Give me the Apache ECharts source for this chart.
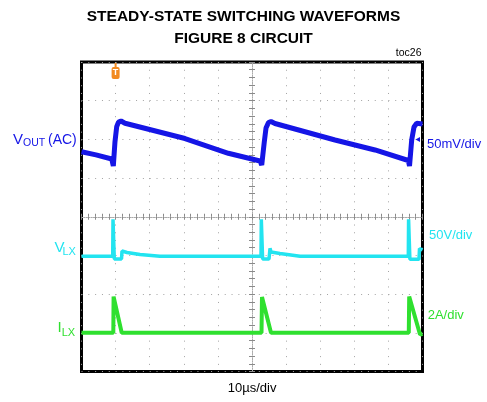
<!DOCTYPE html>
<html><head><meta charset="utf-8">
<script src="https://cdn.jsdelivr.net/npm/echarts@6/dist/echarts.min.js"></script>
<style>html,body{margin:0;padding:0;background:#fff}#c{width:487px;height:402px}</style>
</head><body><div id="c"></div>
<script>
// ---- data read from the scope capture (time in µs, 10 µs/div) ----
const titleLines = ['STEADY-STATE SWITCHING WAVEFORMS', 'FIGURE 8 CIRCUIT'];
const timeRange = [0, 100];
const timeDiv = 10;
const triggerTime = 10;

// VOUT (AC), mV, 50 mV/div, ground marker at +2 div
const voutTime = [0, 4.25, 8.86, 9.33, 9.82, 10.32, 10.85, 11.58, 12.76, 30.35, 43.05, 52.35, 52.85, 53.61, 54.11, 54.84, 55.57, 56.74, 74.34, 86.07, 95.84, 96.19, 96.83, 97.51, 98.3, 100];
const voutMv   = [-16, -20, -25.4, -34.4, -3, 16.4, 22.4, 23.7, 20.8, 1.1, -18, -28, -33.1, -3, 14.7, 21.8, 23.1, 20.5, -0.8, -13.7, -27.3, -34.4, -0.8, 16, 20.8, 19.9];
const voutScale = 50, voutPos = 2;

// VLX, V, 50 V/div, ground at -1 div
const lxTime = [0, 9.15, 9.24, 9.53, 9.62, 11.73, 11.88, 13.34, 17.16, 23, 52.64, 52.73, 53.02, 53.11, 54.99, 55.28, 55.57, 58.2, 64.1, 95.84, 95.92, 96.22, 96.3, 98.97, 99.12, 100];
const lxVolt = [-1, -1, 46.7, 46.7, -4.6, -4.6, 5.7, 3.8, 1.2, -1, -1, 46.7, 46.7, -4.6, -4.6, 9.2, 4.4, 2.5, -1, -1, 46.7, 46.7, -5, -5, 8.9, 7];
const lxScale = 50, lxPos = -1;

// ILX, A, 2 A/div, zero at -3 div
const ilxTime = [0, 9.33, 9.41, 9.68, 11.79, 52.79, 52.93, 53.14, 55.57, 95.98, 96.1, 96.28, 99.27, 100];
const ilxAmp  = [0, 0, 1.87, 1.83, 0, 0, 1.85, 1.87, 0, 0, 1.88, 1.87, -0.09, -0.05];
const ilxScale = 2, ilxPos = -3;

const colBlue = '#1515e6', colCyan = '#22e4f0', colGreen = '#2fe02f';
const FONT = '"Liberation Sans", Arial, Helvetica, sans-serif';

function toDiv(ts, vs, scale, pos) { return ts.map((t, i) => [t, vs[i] / scale + pos]); }

const chart = echarts.init(document.getElementById('c'), null, {renderer: 'canvas'});
const gridBox = {left: 81.5, top: 62, width: 341, height: 309.5};

function centerAxis(dim, position) {
  const base = {
    type: 'value', position: position,
    offset: dim === 'x' ? -gridBox.height / 2 : -gridBox.width / 2,
    axisLine: {show: true, onZero: false, lineStyle: {color: '#aaaaaa', width: 1, type: [1, 1.4]}},
    axisTick: {show: true, length: 3, lineStyle: {color: '#8a8a8a', width: 1}},
    minorTick: {show: true, splitNumber: 5, length: 3, lineStyle: {color: '#8a8a8a', width: 1}},
    axisLabel: {show: false}, splitLine: {show: false}
  };
  if (dim === 'x') { base.min = timeRange[0]; base.max = timeRange[1]; base.interval = timeDiv; }
  else { base.min = -4; base.max = 4; base.interval = 1; }
  return base;
}

chart.setOption({
  animation: false,
  backgroundColor: '#ffffff',
  title: {
    text: titleLines.join('\n'), left: 'center', top: 1,
    textStyle: {fontFamily: FONT, fontSize: 15.5, fontWeight: 'bold', color: '#000', lineHeight: 22}
  },
  grid: Object.assign({show: true, borderColor: '#000', borderWidth: 3, backgroundColor: 'transparent'}, gridBox),
  xAxis: [
    {type: 'value', min: timeRange[0], max: timeRange[1], interval: timeDiv,
     axisLine: {show: false, onZero: false}, axisTick: {show: false}, axisLabel: {show: false},
     splitLine: {show: true, lineStyle: {color: '#a3a3a3', width: 1, type: [1, 6.74]}}},
    centerAxis('x', 'bottom'), centerAxis('x', 'top')
  ],
  yAxis: [
    {type: 'value', min: -4, max: 4, interval: 1,
     axisLine: {show: false, onZero: false}, axisTick: {show: false}, axisLabel: {show: false},
     splitLine: {show: true, lineStyle: {color: '#a3a3a3', width: 1, type: [1, 5.82]}}},
    centerAxis('y', 'left'), centerAxis('y', 'right')
  ],
  series: [
    {type: 'line', name: 'VOUT', data: toDiv(voutTime, voutMv, voutScale, voutPos), showSymbol: false,
     lineStyle: {color: colBlue, width: 5}, xAxisIndex: 0, yAxisIndex: 0, z: 3},
    {type: 'line', name: 'VLX', data: toDiv(lxTime, lxVolt, lxScale, lxPos), showSymbol: false,
     lineStyle: {color: colCyan, width: 3.5}, xAxisIndex: 0, yAxisIndex: 0, z: 3},
    {type: 'line', name: 'ILX', data: toDiv(ilxTime, ilxAmp, ilxScale, ilxPos), showSymbol: false,
     lineStyle: {color: colGreen, width: 4}, xAxisIndex: 0, yAxisIndex: 0, z: 3}
  ]
});

const trig = chart.convertToPixel({xAxisIndex: 0, yAxisIndex: 0}, [triggerTime, 4]);
const gnd = chart.convertToPixel({xAxisIndex: 0, yAxisIndex: 0}, [timeRange[1], voutPos]);

function txt(text, x, y, size, color, align, weight) {
  return {type: 'text', x: x, y: y, z: 10,
    style: {text: text, fill: color, font: (weight || 'normal') + ' ' + size + 'px ' + FONT,
            align: align || 'left', verticalAlign: 'middle'}};
}

chart.setOption({
  graphic: [
    // trigger marker
    {type: 'group', x: trig[0], y: trig[1], z: 10, children: [
      {type: 'rect', shape: {x: -1, y: 1, width: 2, height: 4}, style: {fill: '#f28a20'}},
      {type: 'rect', shape: {x: -4, y: 5, width: 8, height: 12, r: 2}, style: {fill: '#f28a20'}},
      {type: 'text', x: 0, y: 11, style: {text: 'T', fill: '#ffffff', font: 'bold 9px ' + FONT, align: 'center', verticalAlign: 'middle'}}
    ]},
    // VOUT ground marker
    {type: 'polygon', z: 10, shape: {points: [[gnd[0] - 7, gnd[1]], [gnd[0] - 2.5, gnd[1] - 2.5], [gnd[0] - 2.5, gnd[1] + 2.5]]},
     style: {fill: colBlue}},
    txt('V', 13, 139.7, 15, colBlue),
    txt('OUT', 23, 143.5, 10.5, colBlue),
    txt('(AC)', 48, 140.5, 14, colBlue),
    txt('50mV/div', 427, 144, 13, colBlue),
    txt('V', 54.5, 247.5, 15, colCyan),
    txt('LX', 62.5, 252, 11, colCyan),
    txt('50V/div', 429, 235, 13, colCyan),
    txt('I', 57.5, 328, 15, colGreen),
    txt('LX', 61.7, 333, 11, colGreen),
    txt('2A/div', 427.7, 315.3, 13, colGreen),
    txt('10µs/div', 227.7, 388.7, 13, '#000'),
    txt('toc26', 421.5, 53.5, 10.5, '#000', 'right')
  ]
});
</script>
</body></html>
